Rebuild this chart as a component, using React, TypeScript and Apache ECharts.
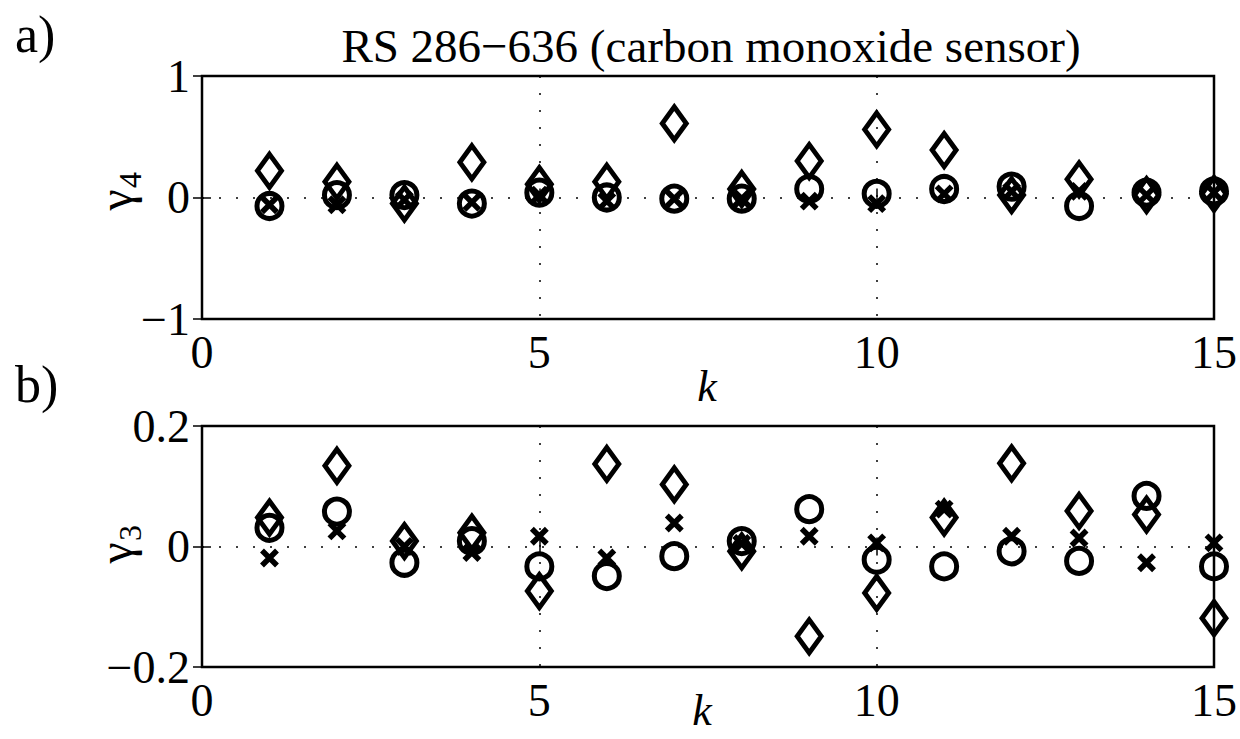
import React, { useEffect, useRef } from "react";
import * as echarts from "echarts";

const K = [1, 2, 3, 4, 5, 6, 7, 8, 9, 10, 11, 12, 13, 14, 15];

// panel a) gamma_4
const diamondA = [0.22, 0.13, -0.05, 0.29, 0.11, 0.13, 0.61, 0.07, 0.3, 0.56, 0.39, 0.02, 0.15, 0.02, 0.03];
const circleA = [-0.07, 0.02, 0.02, -0.05, 0.04, 0.0, -0.01, -0.01, 0.07, 0.03, 0.07, 0.09, -0.07, 0.04, 0.05];
const crossA = [-0.06, -0.06, -0.02, -0.04, 0.02, -0.03, -0.01, -0.01, -0.03, -0.05, 0.03, 0.05, 0.05, 0.02, 0.04];

// panel b) gamma_3
const diamondB = [0.048, 0.134, 0.009, 0.023, -0.074, 0.137, 0.103, -0.008, -0.149, -0.077, 0.048, 0.138, 0.059, 0.053, -0.119];
const circleB = [0.031, 0.058, -0.027, 0.009, -0.033, -0.049, -0.016, 0.009, 0.062, -0.022, -0.033, -0.008, -0.024, 0.084, -0.033];
const crossB = [-0.019, 0.026, 0.0, -0.01, 0.017, -0.019, 0.039, 0.005, 0.017, 0.006, 0.062, 0.017, 0.014, -0.027, 0.006];

const xTicks = { min: 0, max: 15, interval: 5 };
const yTicksA = { min: -1, max: 1, interval: 1 };
const yTicksB = { min: -0.2, max: 0.2, interval: 0.2 };

const FONT = "Liberation Serif";

export default function App() {
  const ref = useRef<HTMLDivElement>(null);
  useEffect(() => {
    document.body.style.margin = "0";
    if (!ref.current) return;
    const chart = echarts.init(ref.current, undefined, { renderer: "svg" });
    const fmt = (v: number) => (v < 0 ? "\u2212" + String(Math.abs(v)) : String(v));
    const dotted = { color: "#000", width: 1.5, type: [2, 15] as any };
    const tick = { show: true, inside: true, length: 9, lineStyle: { color: "#000", width: 1.5 } };
    const label = { color: "#000", fontSize: 46, fontFamily: FONT };
    const mainX = (gi: number) => ({
      type: "value", gridIndex: gi, ...xTicks, position: "bottom",
      axisLine: { show: false }, axisTick: tick,
      axisLabel: { ...label, margin: 10, formatter: fmt },
      splitLine: { show: true, lineStyle: dotted },
    });
    const secX = (gi: number) => ({
      type: "value", gridIndex: gi, ...xTicks, position: "top",
      axisLine: { show: false }, axisTick: tick, axisLabel: { show: false }, splitLine: { show: false },
    });
    const mainY = (gi: number, t: any) => ({
      type: "value", gridIndex: gi, ...t, position: "left",
      axisLine: { show: false }, axisTick: tick,
      axisLabel: { ...label, margin: 12, formatter: fmt },
      splitLine: { show: true, lineStyle: dotted },
    });
    const secY = (gi: number, t: any) => ({
      type: "value", gridIndex: gi, ...t, position: "right",
      axisLine: { show: false }, axisTick: tick, axisLabel: { show: false }, splitLine: { show: false },
    });
    const mk = (vals: number[], xi: number, yi: number, kind: string) => {
      const base: any = {
        type: "scatter", xAxisIndex: xi, yAxisIndex: yi,
        data: K.map((k, i) => [k, vals[i]]),
        itemStyle: { color: "rgba(0,0,0,0)", borderColor: "#000", borderWidth: 5, opacity: 1 },
        emphasis: { disabled: true }, clip: false, z: 3,
      };
      if (kind === "d") { base.symbol = "diamond"; base.symbolSize = [24, 33]; }
      if (kind === "o") { base.symbol = "circle"; base.symbolSize = 25; }
      if (kind === "x") { base.symbol = "path://M0,0L10,10M10,0L0,10"; base.symbolSize = 15; base.itemStyle.borderWidth = 5.5; }
      return base;
    };
    const txt = (text: string, size: number, extra: any = {}) => ({
      text, fontSize: size, fontFamily: FONT, fill: "#000", ...extra,
    });
    const ylab = (x: number, y: number, sub: string) => ({
      type: "group", x, y, rotation: Math.PI / 2,
      children: [
        { type: "text", x: 0, y: 0, style: txt("\u03b3", 48, { textAlign: "center", textVerticalAlign: "middle" }) },
        { type: "text", x: 20, y: 15, style: txt(sub, 32, { textAlign: "center", textVerticalAlign: "middle" }) },
      ],
    });
    chart.setOption({
      animation: false,
      backgroundColor: "#fff",
      grid: [
        { left: 202, top: 76, width: 1012, height: 243, show: true, borderColor: "#000", borderWidth: 2.5, backgroundColor: "transparent" },
        { left: 202, top: 426, width: 1012, height: 241, show: true, borderColor: "#000", borderWidth: 2.5, backgroundColor: "transparent" },
      ],
      xAxis: [mainX(0), secX(0), mainX(1), secX(1)],
      yAxis: [mainY(0, yTicksA), secY(0, yTicksA), mainY(1, yTicksB), secY(1, yTicksB)],
      series: [
        mk(diamondA, 0, 0, "d"), mk(circleA, 0, 0, "o"), mk(crossA, 0, 0, "x"),
        mk(diamondB, 2, 2, "d"), mk(circleB, 2, 2, "o"), mk(crossB, 2, 2, "x"),
      ],
      graphic: [
        { type: "text", x: 15, y: 34, style: txt("a)", 52, { textVerticalAlign: "middle" }) },
        { type: "text", x: 15, y: 384, style: txt("b)", 52, { textVerticalAlign: "middle" }) },
        { type: "text", x: 711, y: 46, style: txt("RS 286\u2212636 (carbon monoxide sensor)", 47, { textAlign: "center", textVerticalAlign: "middle" }) },
        { type: "text", x: 707, y: 386, style: txt("k", 44, { fontStyle: "italic", textAlign: "center", textVerticalAlign: "middle" }) },
        { type: "text", x: 702, y: 710, style: txt("k", 44, { fontStyle: "italic", textAlign: "center", textVerticalAlign: "middle" }) },
        ylab(115, 200, "4"),
        ylab(115, 553, "3"),
      ],
    });
    return () => chart.dispose();
  }, []);
  return <div ref={ref} style={{ width: 1240, height: 739 }} />;
}
